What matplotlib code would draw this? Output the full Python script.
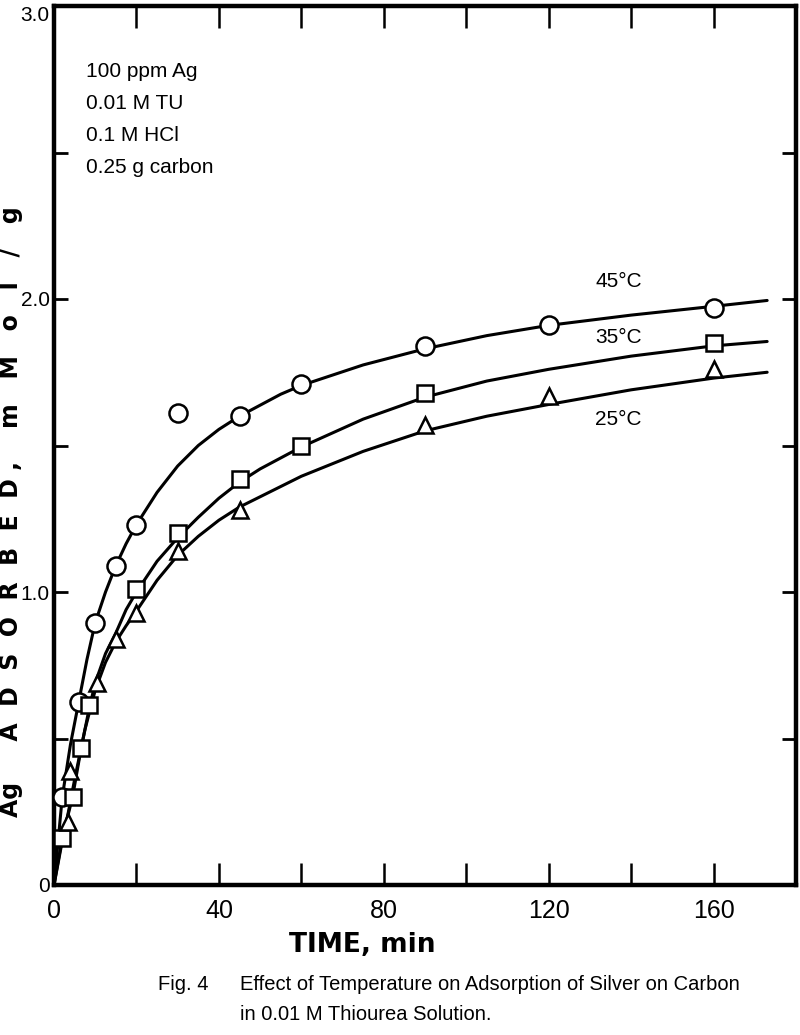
import matplotlib
matplotlib.use("Agg")
import matplotlib.pyplot as plt
from matplotlib.ticker import MultipleLocator, FixedLocator

plt.rcParams['font.family'] = ['Liberation Sans', 'DejaVu Sans']

# measured points
t_45 = [2, 6, 10, 15, 20, 30, 45, 60, 90, 120, 160]
v_45 = [0.30, 0.625, 0.895, 1.09, 1.23, 1.61, 1.60, 1.71, 1.84, 1.91, 1.97]
t_35 = [2, 4.5, 6.5, 8.5, 20, 30, 45, 60, 90, 160]
v_35 = [0.16, 0.30, 0.467, 0.615, 1.01, 1.20, 1.385, 1.50, 1.68, 1.85]
t_25 = [3.5, 4, 10.5, 15, 20, 30, 45, 90, 120, 160]
v_25 = [0.215, 0.39, 0.69, 0.84, 0.93, 1.14, 1.28, 1.57, 1.67, 1.76]

# hand drawn curves
ct_45 = [0, 1, 2, 4, 6, 8, 10, 12.5, 15, 17.5, 20, 25, 30, 35, 40, 45, 55, 60, 75, 90, 105, 120, 140, 160, 173]
cv_45 = [0, 0.15, 0.30, 0.48, 0.625, 0.77, 0.895, 1.00, 1.09, 1.165, 1.23, 1.34, 1.43, 1.50, 1.555, 1.60,
         1.675, 1.705, 1.775, 1.83, 1.875, 1.91, 1.945, 1.975, 1.995]
ct_35 = [0, 2, 4.5, 6.5, 8.5, 10, 12.5, 15, 17.5, 20, 25, 30, 35, 40, 45, 50, 60, 75, 90, 105, 120, 140, 160, 173]
cv_35 = [0, 0.16, 0.30, 0.46, 0.60, 0.69, 0.79, 0.86, 0.94, 1.00, 1.105, 1.185, 1.255, 1.32, 1.375, 1.42,
         1.495, 1.59, 1.665, 1.72, 1.76, 1.805, 1.84, 1.855]
ct_25 = [0, 2, 3.5, 5, 7.5, 10, 12.5, 15, 17.5, 20, 25, 30, 35, 40, 45, 60, 75, 90, 105, 120, 140, 160, 173]
cv_25 = [0, 0.15, 0.25, 0.36, 0.53, 0.665, 0.76, 0.83, 0.885, 0.935, 1.04, 1.125, 1.19, 1.245, 1.29, 1.395,
         1.48, 1.55, 1.60, 1.64, 1.69, 1.73, 1.75]

conditions = ["100 ppm Ag", "0.01 M TU", "0.1 M HCl", "0.25 g carbon"]
x_labels = ["0", "40", "80", "120", "160"]
y_labels = ["0", "1.0", "2.0", "3.0"]

fig = plt.figure(figsize=(8, 10.35), dpi=100)
ax = fig.add_axes([54 / 800, 1 - 885 / 1035, (796 - 54) / 800, (885 - 6) / 1035])

for ct, cv in [(ct_45, cv_45), (ct_35, cv_35), (ct_25, cv_25)]:
    ax.plot(ct, cv, color='black', lw=2.2, zorder=2, solid_capstyle='round', solid_joinstyle='round')

mk = dict(color='black', mfc='white', mew=1.8, ls='none', zorder=3)
ax.plot(t_45, v_45, marker='o', ms=13, **mk)
ax.plot(t_35, v_35, marker='s', ms=11, **mk)
ax.plot(t_25, v_25, marker='^', ms=12, **mk)

ax.text(137, 2.06, "45°C", ha='center', va='center', fontsize=15)
ax.text(137, 1.87, "35°C", ha='center', va='center', fontsize=15)
ax.text(137, 1.59, "25°C", ha='center', va='center', fontsize=15)

for i, line in enumerate(conditions):
    ax.text(7.7, 2.775 - 0.109 * i, line, ha='left', va='center', fontsize=15)

ax.set_xlim(0, 180)
ax.set_ylim(0, 3)
ax.xaxis.set_major_locator(FixedLocator([0, 40, 80, 120, 160]))
ax.set_xticklabels(x_labels)
ax.xaxis.set_minor_locator(MultipleLocator(20))
ax.yaxis.set_major_locator(FixedLocator([0, 1, 2, 3]))
ax.set_yticklabels(y_labels)
ax.yaxis.set_minor_locator(MultipleLocator(0.5))

ax.tick_params(axis='x', which='both', direction='in', length=16, width=1.8, top=True,
               labelsize=18, pad=10)
ax.tick_params(axis='y', which='both', direction='in', length=10, width=2, right=True,
               labelsize=15, pad=3)
ax.get_yticklabels()[-1].set_va('top')
for s in ax.spines.values():
    s.set_linewidth(3.2)

fig.text(362 / 800, 1 - 945 / 1035, "TIME, min", ha='center', va='center',
         fontsize=19, fontweight='bold', family=['DejaVu Sans'])
fig.text(11 / 800, 1 - 512 / 1035,
         "Ag     A  D  S  O  R  B  E  D ,    m   M   o   l   /   g", rotation=90,
         ha='center', va='center', fontsize=17, fontweight='bold', family=['DejaVu Sans'])

fig.text(158 / 800, 1 - 985 / 1035, "Fig. 4", ha='left', va='center', fontsize=14.5)
fig.text(240 / 800, 1 - 985 / 1035, "Effect of Temperature on Adsorption of Silver on Carbon",
         ha='left', va='center', fontsize=14.5)
fig.text(240 / 800, 1 - 1015 / 1035, "in 0.01 M Thiourea Solution.",
         ha='left', va='center', fontsize=14.5)

fig.savefig("out.png", dpi=100)
